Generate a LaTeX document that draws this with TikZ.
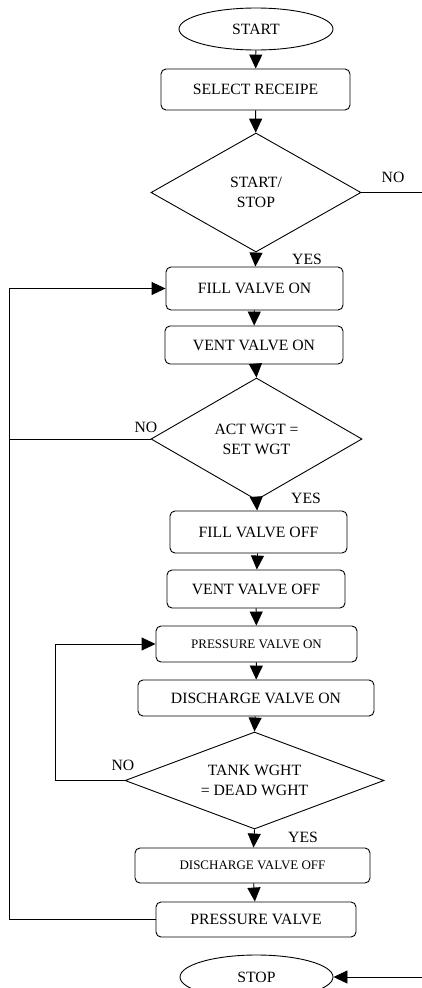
\documentclass[tikz,border=0pt]{standalone}
\usepackage{fontspec}
\setmainfont{Liberation Serif}
\usetikzlibrary{shapes.geometric,arrows.meta}
\begin{document}
\begin{tikzpicture}[x=1pt,y=-1pt,
  every node/.style={font=\fontsize{15.7}{20}\selectfont, inner sep=0pt},
  small/.style={font=\fontsize{13}{16}\selectfont},
  procbox/.style={draw, rounded corners=5pt, line width=0.9pt},
  term/.style={draw, ellipse, line width=0.9pt},
  decide/.style={draw, diamond, line width=0.9pt, align=center},
  conn/.style={line width=0.9pt},
  arr/.style={conn, -{Triangle[length=14pt,width=13pt]}},
  lbl/.style={}
]
\useasboundingbox (0,0) rectangle (422,988);

\node[term, minimum width=154pt, minimum height=42pt] (start) at (256,29) {START};
\node[procbox, minimum width=189pt, minimum height=41pt] (select) at (255.5,89.5) {SELECT RECEIPE};
\node[decide, aspect=1.76, minimum width=210pt, minimum height=119pt] (ss) at (256,192.5) {START/\\STOP};
\node[procbox, minimum width=177pt, minimum height=43pt] (fillon) at (254.5,288.5) {FILL VALVE ON};
\node[procbox, minimum width=178pt, minimum height=38pt] (venton) at (254,345) {VENT VALVE ON};
\node[decide, aspect=1.73, minimum width=211pt, minimum height=122pt] (act) at (256.5,439) {ACT WGT =\\SET WGT};
\node[procbox, minimum width=177pt, minimum height=42pt] (filloff) at (258.5,532) {FILL VALVE OFF};
\node[procbox, minimum width=178pt, minimum height=38pt] (ventoff) at (256,589) {VENT VALVE OFF};
\node[procbox, small, minimum width=201pt, minimum height=36pt] (pvon) at (256.5,644) {PRESSURE VALVE ON};
\node[procbox, minimum width=236pt, minimum height=36pt] (dison) at (256,698) {DISCHARGE VALVE ON};
\node[decide, aspect=2.67, minimum width=259pt, minimum height=97pt] (tank) at (254.5,780.5) {TANK WGHT\\= DEAD WGHT};
\node[procbox, small, minimum width=235pt, minimum height=35pt] (disoff) at (252.5,865.5) {DISCHARGE VALVE OFF};
\node[procbox, minimum width=200pt, minimum height=35pt] (pv) at (256,919.5) {PRESSURE VALVE};
\node[term, minimum width=153pt, minimum height=44pt] (stop) at (256.5,977) {STOP};

\node[lbl] (no1) at (393,177) {NO};
\node[lbl] (yes1) at (307,259) {YES};
\node[lbl] (no2) at (146,427) {NO};
\node[lbl] (yes2) at (306,498) {YES};
\node[lbl] (no3) at (123,765) {NO};
\node[lbl] (yes3) at (303,837) {YES};

\coordinate (ssout) at (422,192.5);
\coordinate (stopin) at (422,977);
\coordinate (lt) at (9,288.5);
\coordinate (lb) at (9,919.5);
\coordinate (la) at (9,439);
\coordinate (mt) at (55,644);
\coordinate (mb) at (55,780.5);

\draw[arr] (start) -- (select);
\draw[arr] (select) -- (ss);
\draw[conn] (ss.east) -- (ssout);
\draw[arr] (ss.south) -- (fillon);
\draw[arr] (fillon) -- (venton);
\draw[arr] (venton) -- (act.north);
\draw[conn] (act.west) -- (la);
\draw[arr] (act.south) -- (filloff);
\draw[arr] (filloff) -- (ventoff);
\draw[arr] (ventoff) -- (pvon);
\draw[arr] (pvon) -- (dison);
\draw[arr] (dison) -- (tank.north);
\draw[arr] (tank.west) -- (mb) -- (mt) -- (pvon.west);
\draw[arr] (tank.south) -- (disoff);
\draw[arr] (disoff) -- (pv);
\draw[arr] (pv.west) -- (lb) -- (lt) -- (fillon.west);
\draw[arr] (stopin) -- (stop.east);
\end{tikzpicture}
\end{document}
